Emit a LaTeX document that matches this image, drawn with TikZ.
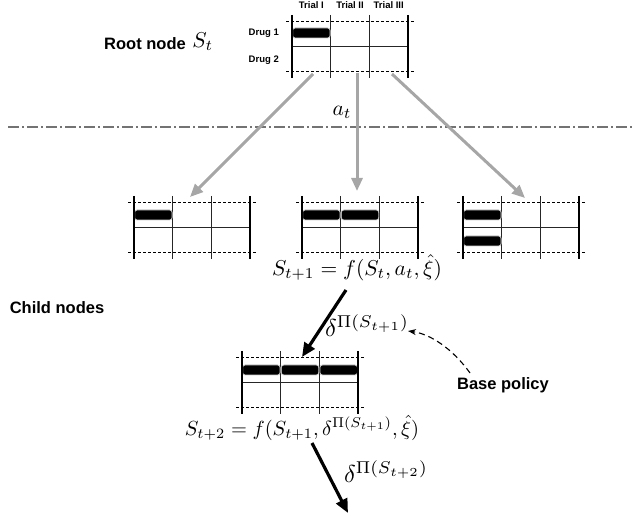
\documentclass[tikz,border=0pt]{standalone}
\usepackage{fontspec}
\newfontfamily\lab{Liberation Sans}
\usetikzlibrary{arrows.meta,calc}
\tikzset{
  dashline/.style={black, line width=0.8pt, dash pattern=on 3pt off 2pt},
  thinline/.style={black!85, line width=0.8pt},
  thickline/.style={black, line width=2.6pt},
  drugbox/.style={fill=black, draw=white!80!black, line width=0.8pt, rounded corners=2.5pt},
  grayarrow/.style={draw=black!35, line width=3pt, -{Triangle[length=13pt,width=11pt]}},
  blackarrow/.style={draw=black, line width=3.2pt, -{Triangle[length=14pt,width=12pt]}},
  dottedsep/.style={draw=black!55, line width=1.1pt, dash pattern=on 11pt off 3pt on 2pt off 3pt},
  baselink/.style={draw=black, line width=1.1pt, dash pattern=on 6pt off 4pt, -{Stealth[length=8pt,width=6pt]}},
  toplabel/.style={font=\lab\bfseries\fontsize{9.5}{10}\selectfont, inner sep=0pt},
  druglabel/.style={font=\lab\bfseries\fontsize{9.5}{10}\selectfont, inner sep=0pt, anchor=east},
  biglabel/.style={font=\lab\bfseries\fontsize{16.5}{19}\selectfont, inner sep=0pt},
  mathlabel/.style={font=\normalsize, inner sep=0pt, scale=2.15},
  deltalabel/.style={font=\normalsize, inner sep=0pt, scale=2.45},
}
\newcommand\tgrid[2]{%
  \begin{scope}[shift={(#1)}]
    \draw[dashline] (-6,0) -- (122,0);
    \draw[dashline] (-6,50) -- (122,50);
    \draw[thinline] (0,25) -- (116,25);
    \draw[thinline] (38.67,-6) -- (38.67,57);
    \draw[thinline] (77.33,-6) -- (77.33,57);
    \coordinate (#2-top) at (58,0);
    \coordinate (#2-bot) at (58,50);
    \coordinate (#2-tl) at (0,0);
  \end{scope}}
\newcommand\tgridedge[1]{%
  \begin{scope}[shift={(#1)}]
    \draw[thickline] (0,-6) -- (0,57);
    \draw[thickline] (116,-6) -- (116,57);
  \end{scope}}
% drug bar: grid origin, column (0..2), row offset
\newcommand\drugbox[3]{%
  \begin{scope}[shift={(#1)}]
    \path[drugbox] ({#2*38.67+0.6},#3) rectangle ({#2*38.67+38.1},{#3+10});
  \end{scope}}
\begin{document}
\begin{tikzpicture}[x=1pt,y=-1pt]
\useasboundingbox (0,0) rectangle (633,516);
% root grid
\tgrid{292,21}{root}
\drugbox{292,21}{0}{7}
\tgridedge{292,21}
\node[toplabel] (t1) at (311.3,5) {Trial I};
\node[toplabel] (t2) at (350,5) {Trial II};
\node[toplabel] (t3) at (388.7,5) {Trial III};
\node[druglabel] (d1) at (279,33) {Drug 1};
\node[druglabel] (d2) at (279,60) {Drug 2};
\node[biglabel, anchor=east] (rootlab) at (186,44) {Root node};
\node[mathlabel, anchor=west] (rootS) at (192,42) {$S_t$};
% separator
\coordinate (sepL) at (8,127);
\coordinate (sepR) at (633,127);
\draw[dottedsep] (sepL) -- (sepR);
\node[mathlabel] (at) at (342,112) {$a_t$};
% child grids
\tgrid{134,202}{c1}
\drugbox{134,202}{0}{8}
\tgridedge{134,202}
\tgrid{302,202}{c2}
\drugbox{302,202}{0}{8}
\drugbox{302,202}{1}{8}
\tgridedge{302,202}
\tgrid{463,202}{c3}
\drugbox{463,202}{0}{8}
\drugbox{463,202}{0}{34}
\tgridedge{463,202}
% gray arrows
\coordinate (a1s) at (313,74);
\coordinate (a1e) at (190,197);
\coordinate (a2s) at (357,73);
\coordinate (a2e) at (357,191);
\coordinate (a3s) at (392,74);
\coordinate (a3e) at (525,198);
\draw[grayarrow] (a1s) -- (a1e);
\draw[grayarrow] (a2s) -- (a2e);
\draw[grayarrow] (a3s) -- (a3e);
% formula 1
\node[mathlabel] (f1) at (357,268) {$S_{t+1}=f(S_t,a_t,\hat{\xi})$};
\node[biglabel] (child) at (57,308) {Child nodes};
% bottom grid
\tgrid{242,357}{g3}
\drugbox{242,357}{0}{8}
\drugbox{242,357}{1}{8}
\drugbox{242,357}{2}{8}
\tgridedge{242,357}
\coordinate (b1s) at (346,290);
\coordinate (b1e) at (302,357);
\draw[blackarrow] (b1s) -- (b1e);
\node[deltalabel] (del1) at (367,326) {$\delta^{\Pi(S_{t+1})}$};
\node[biglabel] (base) at (503,385) {Base policy};
\coordinate (bp) at (470,373);
\coordinate (bpe) at (408,331);
\draw[baselink] (bp) .. controls (452,348) and (430,334) .. (bpe);
\node[mathlabel, scale=0.95] (f2) at (302,428) {$S_{t+2}=f(S_{t+1},\delta^{\Pi(S_{t+1})},\hat{\xi})$};
\coordinate (b2s) at (312,443);
\coordinate (b2e) at (348,513);
\draw[blackarrow] (b2s) -- (b2e);
\node[deltalabel] (del2) at (386,472) {$\delta^{\Pi(S_{t+2})}$};
\end{tikzpicture}
\end{document}
